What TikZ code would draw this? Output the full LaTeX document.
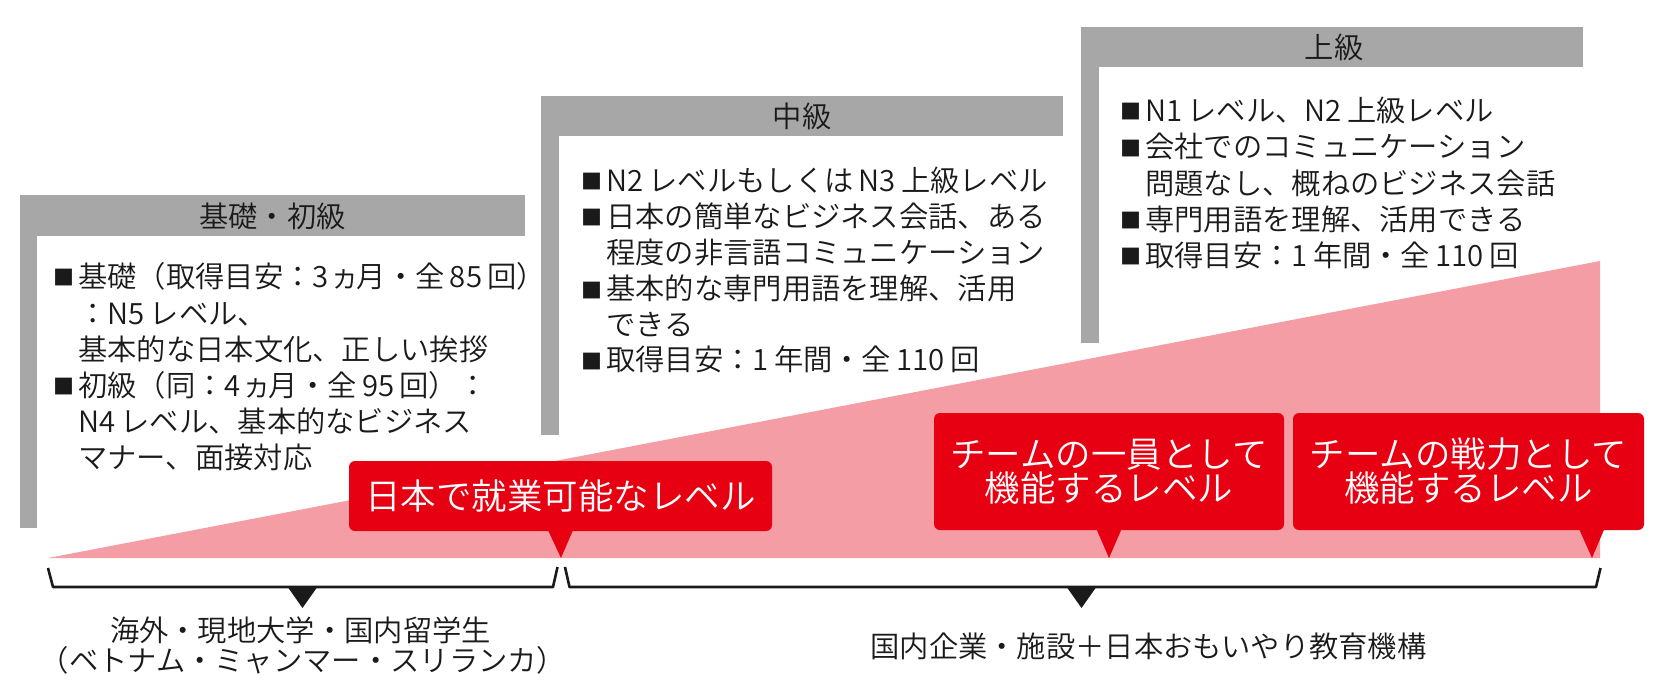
\documentclass[tikz,border=0pt]{standalone}
\usepackage{fontspec}
\setmainfont{Noto Sans CJK JP}[UprightFont={* DemiLight}]
\usetikzlibrary{calc}
\definecolor{barg}{HTML}{A7A7A7}
\definecolor{pinkf}{HTML}{F49DA5}
\definecolor{redf}{HTML}{E60012}
\definecolor{txt}{HTML}{1A1A1A}
\newcommand\sqb{\makebox[25pt][l]{\raisebox{1.5pt}{\fontsize{21pt}{21pt}\selectfont ■}}}
\newcommand\nka{\makebox[0.78em]{ヵ}}
\newcommand\tsp{\hspace{0.18em}}
\begin{document}
\begin{tikzpicture}[x=1pt,y=-1pt,
  body/.style={anchor=base west, inner sep=0pt, text=txt, font=\fontsize{29.3pt}{36pt}\selectfont},
  ttl/.style={anchor=base, inner sep=0pt, text=txt, font=\fontsize{29.3pt}{36pt}\selectfont},
  lbl/.style={anchor=base, inner sep=0pt, text=txt, font=\fontsize{29.3pt}{36pt}\selectfont},
  callout/.style={fill=redf, rounded corners=6pt, inner sep=0pt, text=white, align=center, font=\fontsize{35.5pt}{34pt}\selectfont},
  bar/.style={fill=barg},
  brk/.style={draw=txt, line width=2.6pt, line join=round},
  ptr/.style={fill=txt}
]
\fill[white] (0,0) rectangle (1671,694);
\useasboundingbox (0,0) rectangle (1671,694);

% pink wedge
\fill[pinkf] (48,558) -- (1600,261) -- (1600,558) -- cycle;

% gray frames
\fill[bar] (20,195) rectangle (525,236);
\fill[bar] (20,236) rectangle (37,528);
\fill[bar] (541,96) rectangle (1063,136);
\fill[bar] (541,136) rectangle (559,435);
\fill[bar] (1081,27) rectangle (1583,67);
\fill[bar] (1081,67) rectangle (1099,343);

% titles
\node[ttl] (tA) at (272.5,227.5) {基礎・初級};
\node[ttl] (tB) at (802,127.5) {中級};
\node[ttl] (tC) at (1334,58.5) {上級};

% body A
\node[body] (a1) at (53,287) {\sqb 基礎（取得目安：3\tsp\nka 月・全\tsp 85\tsp 回）};
\node[body] (a2) at (78,324) {：N5\tsp レベル、};
\node[body] (a3) at (78,360.5) {基本的な日本文化、正しい挨拶};
\node[body] (a4) at (53,396) {\sqb 初級（同：4\tsp\nka 月・全\tsp 95\tsp 回）：};
\node[body] (a5) at (78,432) {N4\tsp レベル、基本的なビジネス};
\node[body] (a6) at (78,468) {マナー、面接対応};

% body B
\node[body] (b1) at (581,191) {\sqb N2\tsp レベルもしくは\tsp N3\tsp 上級レベル};
\node[body] (b2) at (581,227) {\sqb 日本の簡単なビジネス会話、ある};
\node[body] (b3) at (606,263) {程度の非言語コミュニケーション};
\node[body] (b4) at (581,299.5) {\sqb 基本的な専門用語を理解、活用};
\node[body] (b5) at (606,335) {できる};
\node[body] (b6) at (581,370.5) {\sqb 取得目安：1\tsp 年間・全\tsp 110\tsp 回};

% body C
\node[body] (c1t) at (1120,121) {\sqb N1\tsp レベル、N2\tsp 上級レベル};
\node[body] (c2t) at (1120,157.5) {\sqb 会社でのコミュニケーション};
\node[body] (c3t) at (1145,194) {問題なし、概ねのビジネス会話};
\node[body] (c4t) at (1120,230) {\sqb 専門用語を理解、活用できる};
\node[body] (c5t) at (1120,266) {\sqb 取得目安：1\tsp 年間・全\tsp 110\tsp 回};

% callouts
\node[callout, minimum width=423pt, minimum height=70pt] (c1) at (560.5,496) {日本で就業可能なレベル};
\node[callout, minimum width=350pt, minimum height=117pt] (c2) at (1109,471.5) {チームの一員として\\機能するレベル};
\node[callout, minimum width=351pt, minimum height=117pt] (c3) at (1468.5,471.5) {チームの戦力として\\機能するレベル};
\coordinate (p1) at (561,558);
\coordinate (p2) at (1109,558);
\coordinate (p3) at (1592,558);
\fill[redf] ($(c1.south)+(-12.5,-1)$) -- (p1) -- ($(c1.south)+(12.5,-1)$) -- cycle;
\fill[redf] ($(c2.south)+(-12.5,-1)$) -- (p2) -- ($(c2.south)+(12.5,-1)$) -- cycle;
\fill[redf] ($(c3.south east)+(-65,-1)$) -- (p3) -- ($(c3.south east)+(-40,-1)$) -- cycle;

% brackets
\coordinate (bA1) at (48,568);
\coordinate (bA2) at (53,587);
\coordinate (bA3) at (553,587);
\coordinate (bA4) at (557.5,567);
\coordinate (bB1) at (565,567);
\coordinate (bB2) at (569.5,587);
\coordinate (bB3) at (1596,587);
\coordinate (bB4) at (1600.5,568);
\draw[brk] (bA1) -- (bA2) -- (bA3) -- (bA4);
\draw[brk] (bB1) -- (bB2) -- (bB3) -- (bB4);
\coordinate (qA) at (302.5,608);
\coordinate (qB) at (1081.5,608);
\fill[ptr] (287,586) -- (318,586) -- (qA) -- cycle;
\fill[ptr] (1066,586) -- (1097,586) -- (qB) -- cycle;

% bottom labels
\node[lbl] (bl1) at (300.5,641) {海外・現地大学・国内留学生};
\node[lbl] (bl2) at (303,671) {（ベトナム・ミャンマー・スリランカ）};
\node[lbl] (br) at (1148.5,657) {国内企業・施設＋日本おもいやり教育機構};
\end{tikzpicture}
\end{document}
